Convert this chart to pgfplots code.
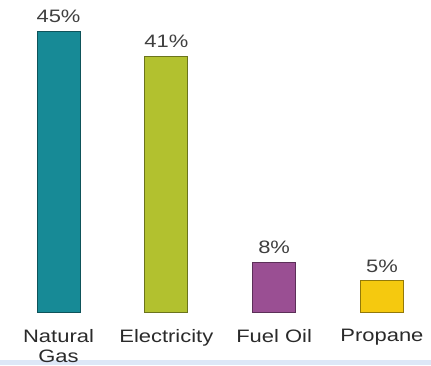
\documentclass[border=0pt]{standalone}
\usepackage{pgfplots}
\pgfplotsset{compat=1.18}
\usepackage{graphicx}
\usepackage{fontspec}
\setmainfont{Liberation Sans}
\definecolor{cteal}{HTML}{178A96}
\definecolor{cgreen}{HTML}{B2C12F}
\definecolor{cpurple}{HTML}{9A4F93}
\definecolor{cyellow}{HTML}{F5C90F}
\definecolor{lbl}{HTML}{2A2A2A}
\definecolor{band}{HTML}{DDE7F7}
\begin{document}
\begin{tikzpicture}
\fill[band] (0pt,0pt) rectangle (431pt,5pt);
\begin{axis}[
  at={(0pt,53pt)}, anchor=south west,
  scale only axis, width=431pt, height=312pt,
  xmin=-0.543, xmax=3.455, ymin=0, ymax=50,
  clip=false,
  axis line style={draw=none},
  ytick=\empty,
  xtick={0,1,2,3},
  xticklabels={Natural\\Gas, Electricity, Fuel Oil, Propane},
  major tick length=0pt,
  xticklabel style={font=\fontsize{18}{20}\selectfont, text=lbl, align=center, anchor=north, yshift=-14pt, xscale=1.22},
  ybar, bar width=43pt, bar shift=0pt,
  point meta=y,
  /pgf/number format/assume math mode=true,
  nodes near coords={\pgfmathprintnumber{\pgfplotspointmeta}\%},
  every node near coord/.append style={font=\fontsize{18}{18}\selectfont, text=lbl!90, anchor=south, inner sep=0pt, yshift=8pt, xscale=1.22},
]
\addplot[fill=cteal, draw=cteal!60!black, line width=0.8pt] coordinates {(0,45)};
\addplot[fill=cgreen, draw=cgreen!60!black, line width=0.8pt] coordinates {(1,41)};
\addplot[fill=cpurple, draw=cpurple!60!black, line width=0.8pt] coordinates {(2,8)};
\addplot[fill=cyellow, draw=cyellow!60!black, line width=0.8pt] coordinates {(3,5)};
\end{axis}
\pgfresetboundingbox
\path (0pt,0pt) rectangle (431pt,365pt);
\end{tikzpicture}
\end{document}
